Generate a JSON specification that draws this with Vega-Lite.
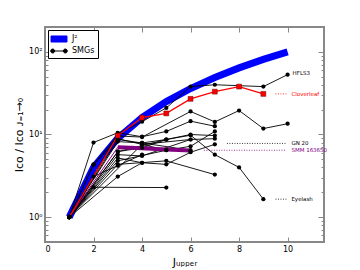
{
  "$schema": "https://vega.github.io/schema/vega-lite/v6.json",
  "width": 279,
  "height": 215,
  "autosize": "none",
  "padding": {"left": 45, "top": 27, "right": 36, "bottom": 28},
  "config": {
    "font": "DejaVu Sans",
    "view": {"stroke": "#888", "strokeWidth": 2},
    "axis": {"grid": false, "domain": false, "tickColor": "#888", "labelFont": "DejaVu Sans", "titleFont": "DejaVu Sans", "labelFontSize": 8, "titleFontWeight": "normal", "labelColor": "black", "titleColor": "black"},
    "legend": {"orient": "top-left", "offset": 3, "strokeColor": "black", "fillColor": "white", "padding": 3, "labelFontSize": 8, "labelFont": "DejaVu Sans", "symbolSize": 121, "rowPadding": 0, "labelOffset": 7, "symbolOffset": 2}
  },
  "datasets": {
    "j2": [
      {"J": 1, "r": 1}, {"J": 2, "r": 4}, {"J": 3, "r": 9}, {"J": 4, "r": 16}, {"J": 5, "r": 25},
      {"J": 6, "r": 36}, {"J": 7, "r": 49}, {"J": 8, "r": 64}, {"J": 9, "r": 81}, {"J": 10, "r": 100}
    ],
    "smg": [
      {"id": "HFLS3", "J": 1, "r": 1}, {"id": "HFLS3", "J": 3, "r": 10.3}, {"id": "HFLS3", "J": 4, "r": 14.3}, {"id": "HFLS3", "J": 5, "r": 21}, {"id": "HFLS3", "J": 6, "r": 38}, {"id": "HFLS3", "J": 7, "r": 40}, {"id": "HFLS3", "J": 9, "r": 38}, {"id": "HFLS3", "J": 10, "r": 53},
      {"id": "Cloverleaf", "J": 1, "r": 1}, {"id": "Cloverleaf", "J": 3, "r": 9.7}, {"id": "Cloverleaf", "J": 4, "r": 16}, {"id": "Cloverleaf", "J": 5, "r": 18}, {"id": "Cloverleaf", "J": 6, "r": 27}, {"id": "Cloverleaf", "J": 7, "r": 33}, {"id": "Cloverleaf", "J": 8, "r": 38}, {"id": "Cloverleaf", "J": 9, "r": 31},
      {"id": "SMM163650", "J": 1, "r": 1}, {"id": "SMM163650", "J": 3, "r": 7.0}, {"id": "SMM163650", "J": 4, "r": 6.8}, {"id": "SMM163650", "J": 5, "r": 6.6}, {"id": "SMM163650", "J": 6, "r": 6.4},
      {"id": "Eyelash", "J": 1, "r": 1}, {"id": "Eyelash", "J": 3, "r": 8.7}, {"id": "Eyelash", "J": 4, "r": 7.9}, {"id": "Eyelash", "J": 5, "r": 8.7}, {"id": "Eyelash", "J": 6, "r": 9.8}, {"id": "Eyelash", "J": 7, "r": 5.7}, {"id": "Eyelash", "J": 8, "r": 4.0}, {"id": "Eyelash", "J": 9, "r": 1.65},
      {"id": "GN20", "J": 1, "r": 1}, {"id": "GN20", "J": 2, "r": 4.3}, {"id": "GN20", "J": 3, "r": 8.9}, {"id": "GN20", "J": 4, "r": 7.6}, {"id": "GN20", "J": 5, "r": 6.45}, {"id": "GN20", "J": 6, "r": 7.2}, {"id": "GN20", "J": 7, "r": 10.9},
      {"id": "S1", "J": 1, "r": 1}, {"id": "S1", "J": 2, "r": 8}, {"id": "S1", "J": 3, "r": 10.5}, {"id": "S1", "J": 4, "r": 9.4}, {"id": "S1", "J": 5, "r": 10.9}, {"id": "S1", "J": 6, "r": 14.5}, {"id": "S1", "J": 7, "r": 12.6},
      {"id": "S2", "J": 1, "r": 1}, {"id": "S2", "J": 3, "r": 9.6}, {"id": "S2", "J": 4, "r": 9.3}, {"id": "S2", "J": 6, "r": 19}, {"id": "S2", "J": 7, "r": 14.2}, {"id": "S2", "J": 8, "r": 19.5}, {"id": "S2", "J": 9, "r": 11.8}, {"id": "S2", "J": 10, "r": 13.5},
      {"id": "S3", "J": 1, "r": 1}, {"id": "S3", "J": 3, "r": 6.2}, {"id": "S3", "J": 4, "r": 6.9}, {"id": "S3", "J": 5, "r": 8.7}, {"id": "S3", "J": 6, "r": 10}, {"id": "S3", "J": 7, "r": 9.7},
      {"id": "S4", "J": 1, "r": 1}, {"id": "S4", "J": 3, "r": 5.7}, {"id": "S4", "J": 4, "r": 5.5}, {"id": "S4", "J": 6, "r": 8.7}, {"id": "S4", "J": 7, "r": 8.9},
      {"id": "S5", "J": 1, "r": 1}, {"id": "S5", "J": 3, "r": 5.2}, {"id": "S5", "J": 4, "r": 4.55}, {"id": "S5", "J": 5, "r": 4.35}, {"id": "S5", "J": 6, "r": 6.1}, {"id": "S5", "J": 7, "r": 7.6},
      {"id": "S6", "J": 1, "r": 1}, {"id": "S6", "J": 3, "r": 4.35}, {"id": "S6", "J": 5, "r": 4.8}, {"id": "S6", "J": 7, "r": 3.27},
      {"id": "S7", "J": 1, "r": 1}, {"id": "S7", "J": 2, "r": 2.3}, {"id": "S7", "J": 5, "r": 2.28},
      {"id": "S8", "J": 1, "r": 1}, {"id": "S8", "J": 2, "r": 3.1}, {"id": "S8", "J": 3, "r": 4.2}, {"id": "S8", "J": 4, "r": 5.7},
      {"id": "S9", "J": 1, "r": 1}, {"id": "S9", "J": 3, "r": 3.1}, {"id": "S9", "J": 4, "r": 4.55},
      {"id": "S10", "J": 1, "r": 1}, {"id": "S10", "J": 3, "r": 8.2}, {"id": "S10", "J": 4, "r": 7.9}, {"id": "S10", "J": 6, "r": 6.45},
      {"id": "S11", "J": 1, "r": 1}, {"id": "S11", "J": 2, "r": 4.35}, {"id": "S11", "J": 3, "r": 9.7},
      {"id": "S12", "J": 1, "r": 1}, {"id": "S12", "J": 3, "r": 4.8}, {"id": "S12", "J": 5, "r": 6.45},
      {"id": "S13", "J": 1, "r": 1}, {"id": "S13", "J": 4, "r": 7.6}, {"id": "S13", "J": 6, "r": 8.7},
      {"id": "S14", "J": 1, "r": 1}, {"id": "S14", "J": 3, "r": 6.2}, {"id": "S14", "J": 5, "r": 8.7}
    ],
    "notes": [
      {"name": "HFLS3", "J": 10, "J2": 10, "r": 56},
      {"name": "Cloverleaf", "J": 9.5, "J2": 9.95, "r": 31},
      {"name": "GN 20", "J": 7.5, "J2": 9.95, "r": 7.8},
      {"name": "SMM 163650", "J": 6.55, "J2": 9.95, "r": 6.45},
      {"name": "Eyelash", "J": 9.5, "J2": 9.95, "r": 1.65}
    ]
  },
  "layer": [
    {
      "layer": [
        {
          "data": {"name": "j2"},
          "mark": {"type": "line", "strokeWidth": 7},
          "encoding": {
            "x": {"field": "J", "type": "quantitative", "scale": {"domain": [0, 11.5], "nice": false, "zero": false},
                  "axis": {"values": [0, 2, 4, 6, 8, 10], "title": "Jᵤₚₚₑᵣ", "titleFontSize": 11, "tickSize": -5, "labelPadding": 8, "titlePadding": 3}},
            "y": {"field": "r", "type": "quantitative", "scale": {"type": "log", "domain": [0.5, 200], "nice": false},
                  "axis": {"values": [0.5, 0.6, 0.7, 0.8, 0.9, 1, 2, 3, 4, 5, 6, 7, 8, 9, 10, 20, 30, 40, 50, 60, 70, 80, 90, 100, 200],
                           "labelExpr": "datum.value == 1 ? '10⁰' : datum.value == 10 ? '10¹' : datum.value == 100 ? '10²' : ''",
                           "tickSize": {"condition": {"test": "datum.value == 1 || datum.value == 10 || datum.value == 100", "value": -6}, "value": -3},
                           "labelPadding": 9, "title": "Iᴄᴏ / Iᴄᴏ ᴊ₌₁→₀", "titleFontSize": 11, "titlePadding": 4}},
            "color": {"datum": "J²", "type": "nominal", "scale": {"domain": ["J²", "SMGs"], "range": ["#0000ff", "black"]},
                      "legend": {"title": null,
                        "encode": {"symbols": {"update": {
                          "shape": {"signal": "datum.value === 'J²' ? 'M-1.45,-0.55H1.45V0.55H-1.45Z' : 'M-1.15,0H1.15M-1.51,0A0.36,0.36,0,1,0,-0.79,0A0.36,0.36,0,1,0,-1.51,0ZM0.79,0A0.36,0.36,0,1,0,1.51,0A0.36,0.36,0,1,0,0.79,0Z'"},
                          "fill": {"signal": "datum.value === 'J²' ? '#0000ff' : 'black'"},
                          "stroke": {"signal": "datum.value === 'J²' ? '#0000ff' : 'black'"},
                          "strokeWidth": {"value": 1},
                          "size": {"value": 121},
                          "opacity": {"value": 1},
                          "fillOpacity": {"value": 1},
                          "strokeOpacity": {"value": 1}
                        }}}}}
          }
        },
        {
          "data": {"name": "smg"},
          "transform": [{"filter": "datum.id != 'Cloverleaf' && datum.id != 'SMM163650'"}],
          "mark": {"type": "line", "strokeWidth": 0.9},
          "encoding": {
            "x": {"field": "J", "type": "quantitative"},
            "y": {"field": "r", "type": "quantitative"},
            "detail": {"field": "id"},
            "color": {"datum": "SMGs", "type": "nominal"}
          }
        },
        {
          "data": {"name": "smg"},
          "transform": [{"filter": "datum.id == 'SMM163650'"}],
          "mark": {"type": "line", "strokeWidth": 1, "color": "purple"},
          "encoding": {
            "x": {"field": "J", "type": "quantitative"},
            "y": {"field": "r", "type": "quantitative"}
          }
        },
        {
          "data": {"name": "smg"},
          "transform": [{"filter": "datum.id == 'SMM163650' && datum.J >= 3"}],
          "mark": {"type": "line", "strokeWidth": 4, "color": "purple"},
          "encoding": {
            "x": {"field": "J", "type": "quantitative"},
            "y": {"field": "r", "type": "quantitative"}
          }
        },
        {
          "data": {"name": "smg"},
          "transform": [{"filter": "datum.id == 'Cloverleaf'"}],
          "mark": {"type": "line", "strokeWidth": 1.3, "color": "red"},
          "encoding": {
            "x": {"field": "J", "type": "quantitative"},
            "y": {"field": "r", "type": "quantitative"}
          }
        },
        {
          "data": {"name": "smg"},
          "transform": [{"filter": "datum.id != 'Cloverleaf' && datum.id != 'SMM163650'"}],
          "mark": {"type": "circle", "size": 18, "color": "black", "opacity": 1},
          "encoding": {
            "x": {"field": "J", "type": "quantitative"},
            "y": {"field": "r", "type": "quantitative"}
          }
        },
        {
          "data": {"name": "smg"},
          "transform": [{"filter": "datum.id == 'Cloverleaf' && datum.J > 1"}],
          "mark": {"type": "square", "size": 24, "fill": "red", "stroke": "#600", "strokeWidth": 0.5, "opacity": 1},
          "encoding": {
            "x": {"field": "J", "type": "quantitative"},
            "y": {"field": "r", "type": "quantitative"}
          }
        },
        {
          "data": {"name": "notes"},
          "transform": [{"filter": "datum.name != 'HFLS3'"}],
          "mark": {"type": "rule", "strokeWidth": 0.8, "strokeDash": [1, 1.5]},
          "encoding": {
            "x": {"field": "J", "type": "quantitative"},
            "x2": {"field": "J2"},
            "y": {"field": "r", "type": "quantitative"},
            "stroke": {"field": "name", "type": "nominal", "legend": null,
                       "scale": {"domain": ["HFLS3", "Cloverleaf", "GN 20", "SMM 163650", "Eyelash"], "range": ["black", "red", "black", "purple", "black"]}}
          }
        },
        {
          "data": {"name": "notes"},
          "mark": {"type": "text", "align": "left", "baseline": "middle", "fontSize": 5.5, "dx": 5, "font": "DejaVu Sans"},
          "encoding": {
            "x": {"field": "J2", "type": "quantitative"},
            "y": {"field": "r", "type": "quantitative"},
            "text": {"field": "name"},
            "fill": {"field": "name", "type": "nominal", "legend": null,
                     "scale": {"domain": ["HFLS3", "Cloverleaf", "GN 20", "SMM 163650", "Eyelash"], "range": ["black", "red", "black", "purple", "black"]}}
          }
        }
      ]
    },
    {
      "data": {"name": "j2"},
      "mark": {"type": "point", "opacity": 0},
      "encoding": {
        "x": {"field": "J", "type": "quantitative",
              "axis": {"orient": "top", "values": [0, 2, 4, 6, 8, 10], "labels": false, "title": null, "tickSize": -5}},
        "y": {"field": "r", "type": "quantitative",
              "axis": {"orient": "right", "values": [0.5, 0.6, 0.7, 0.8, 0.9, 1, 2, 3, 4, 5, 6, 7, 8, 9, 10, 20, 30, 40, 50, 60, 70, 80, 90, 100, 200],
                       "labels": false, "title": null,
                       "tickSize": {"condition": {"test": "datum.value == 1 || datum.value == 10 || datum.value == 100", "value": -6}, "value": -3}}}
      }
    }
  ],
  "resolve": {"axis": {"x": "independent", "y": "independent"}}
}
